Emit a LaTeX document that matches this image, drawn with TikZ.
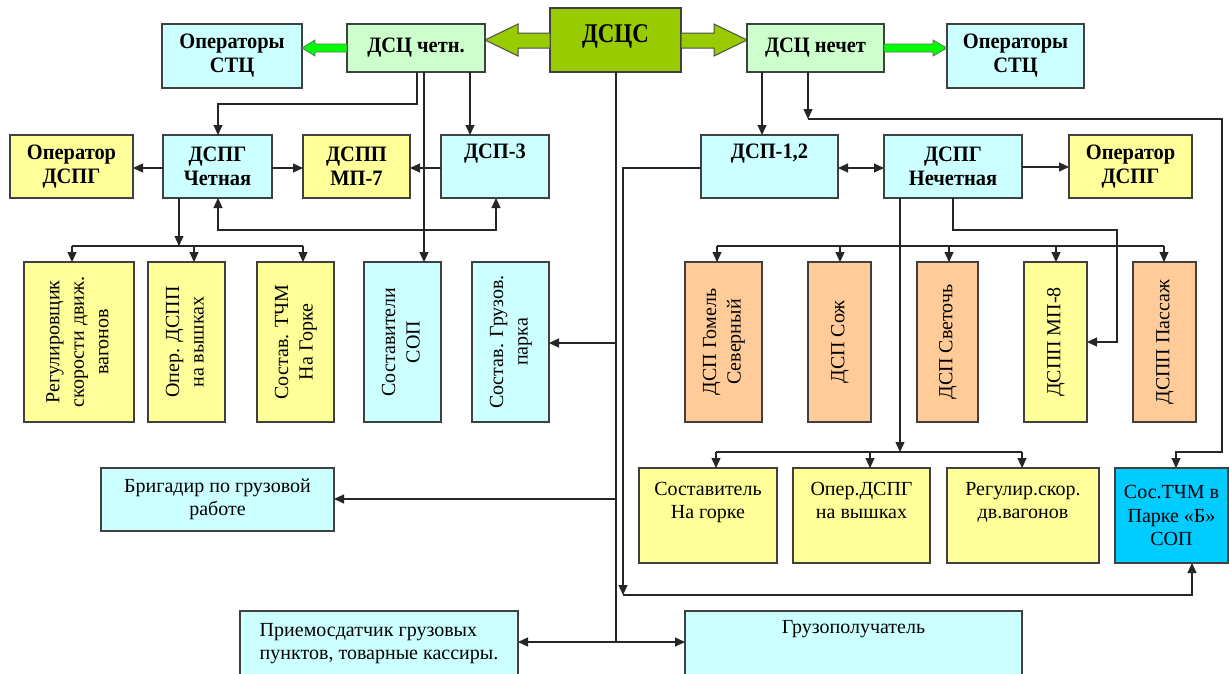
\documentclass[tikz,border=0pt]{standalone}
\usepackage{fontspec}
\setmainfont{Liberation Serif}
\newfontfamily\bcond[FakeStretch=0.93]{Liberation Serif}
\newfontfamily\bbig[FakeStretch=0.85]{Liberation Serif}
\usetikzlibrary{arrows.meta}
\definecolor{cyanL}{HTML}{CCFFFF}
\definecolor{greenL}{HTML}{CCFFCC}
\definecolor{colOlive}{HTML}{99CC00}
\definecolor{colG}{HTML}{00FF00}
\definecolor{colY}{HTML}{FFFF99}
\definecolor{colO}{HTML}{FFCC99}
\definecolor{colB}{HTML}{00CCFF}
\newcommand\bx[8]{\node[box,#8,fill=#6,minimum width={(#4-#2)*1pt},minimum height={(#5-#3)*1pt}] (#1) at ({(#2+#4)/2},{(#3+#5)/2}) {#7};}
\newcommand\rt[1]{\rotatebox{90}{\begin{tabular}{@{}c@{}}#1\end{tabular}}}
\tikzset{
  box/.style={rectangle,draw=black!75,line width=1.2pt,inner sep=0pt,outer sep=0pt,text=black},
  bt/.style={font=\bcond\bfseries\fontsize{22}{24}\selectfont,align=center},
  nt/.style={font=\fontsize{20}{23.5}\selectfont,align=center},
  rtxt/.style={font=\fontsize{20}{24.5}\selectfont},
  ln/.style={line width=1.2pt,draw=black!85},
  arr/.style={ln,-{Triangle[length=10pt,width=9pt]}},
  darr/.style={ln,{Triangle[length=10pt,width=9pt]}-{Triangle[length=10pt,width=9pt]}},
  bigarr/.style={fill=colOlive,draw=black!70,line width=1pt},
  garr/.style={fill=colG,draw=black!60,line width=0.8pt},
}
\begin{document}
\begin{tikzpicture}[x=1pt,y=-1pt]
\useasboundingbox (0,0) rectangle (1229,673);
\clip (0,0) rectangle (1229,673);
\fill[white] (0,0) rectangle (1229,673);
% top row
\bx{opL}{162}{24}{302}{88}{cyanL}{Операторы\\СТЦ}{bt}
\bx{dsczh}{347}{24}{485}{72}{greenL}{ДСЦ четн.}{bt}
\bx{dscs}{550}{8}{681}{72}{colOlive}{ДСЦС}{bt,font=\bbig\bfseries\fontsize{27}{30}\selectfont,text height=18pt,text depth=14pt}
\bx{dscn}{747}{24}{884}{72}{greenL}{ДСЦ нечет}{bt}
\bx{opR}{947}{24}{1084}{88}{cyanL}{Операторы\\СТЦ}{bt}
% row 2
\bx{odL}{10}{135}{133}{198}{colY}{Оператор\\ДСПГ}{bt}
\bx{dspgE}{163}{135}{272}{198}{cyanL}{ДСПГ\\Четная}{bt}
\bx{dsppE}{303}{135}{410}{198}{colY}{ДСПП\\МП-7}{bt}
\bx{dsp3}{441}{135}{549}{198}{cyanL}{ДСП-3\\\strut}{bt}
\bx{dsp12}{701}{135}{838}{198}{cyanL}{ДСП-1,2\\\strut}{bt}
\bx{dspgO}{884}{135}{1022}{198}{cyanL}{ДСПГ\\Нечетная}{bt}
\bx{odR}{1069}{135}{1192}{198}{colY}{Оператор\\ДСПГ}{bt}
% row 3
\bx{reg}{24}{262}{134}{422}{colY}{\rt{Регулировщик\\скорости движ.\\вагонов}}{rtxt}
\bx{oper}{148}{262}{225}{422}{colY}{\rt{Опер. ДСПП\\на вышках}}{rtxt}
\bx{sostav}{257}{262}{334}{422}{colY}{\rt{Состав. ТЧМ\\На Горке}}{rtxt}
\bx{sostSOP}{364}{262}{441}{422}{cyanL}{\rt{Составители\\СОП}}{rtxt}
\bx{sostGr}{472}{262}{549}{422}{cyanL}{\rt{Состав. Грузов.\\парка}}{rtxt}
\bx{gomel}{685}{262}{762}{422}{colO}{\rt{ДСП Гомель\\Северный}}{rtxt}
\bx{sozh}{808}{262}{871}{422}{colO}{\rt{ДСП Сож}}{rtxt}
\bx{svet}{917}{262}{978}{422}{colO}{\rt{ДСП Светочь}}{rtxt}
\bx{mp8}{1024}{262}{1087}{422}{colY}{\rt{ДСПП МП-8}}{rtxt}
\bx{pass}{1133}{262}{1196}{422}{colO}{\rt{ДСПП Пассаж}}{rtxt}
% row 4
\bx{sost}{639}{468}{777}{563}{colY}{Составитель\\На горке\\\strut}{nt}
\bx{operD}{793}{468}{930}{563}{colY}{Опер.ДСПГ\\на вышках\\\strut}{nt}
\bx{regul}{947}{468}{1099}{563}{colY}{Регулир.скор.\\дв.вагонов\\\strut}{nt}
\bx{sosT}{1115}{468}{1228}{563}{colB}{Сос.ТЧМ в\\Парке «Б»\\СОП}{nt}
\bx{brig}{101}{468}{334}{531}{cyanL}{Бригадир по грузовой\\работе}{nt}
\bx{priem}{240}{611}{518}{676}{cyanL}{Приемосдатчик грузовых\\пунктов, товарные кассиры.}{nt,align=left}
\bx{gruz}{685}{611}{1022}{696}{cyanL}{Грузополучатель\\\strut\\\strut}{nt}
% big arrows
\draw[bigarr] (dscs.west |- 0,33) -- (518,33) -- (518,24) -- (dsczh.east |- 0,40) -- (518,56) -- (518,48) -- (dscs.west |- 0,48) -- cycle;
\draw[bigarr] (dscs.east |- 0,33) -- (714,33) -- (714,24) -- (dscn.west |- 0,40) -- (714,56) -- (714,48) -- (dscs.east |- 0,48) -- cycle;
% green arrows
\draw[garr] (dsczh.west |- 0,44) -- (315,44) -- (315,40) -- (opL.east |- 0,48) -- (315,56) -- (315,52) -- (dsczh.west |- 0,52) -- cycle;
\draw[garr] (dscn.east |- 0,44) -- (933,44) -- (933,40) -- (opR.west |- 0,48) -- (933,56) -- (933,52) -- (dscn.east |- 0,52) -- cycle;
% left connectors
\draw[arr] (417,0 |- dsczh.south) -- (417,104) -| (218,0 |- dspgE.north);
\draw[arr] (424,0 |- dsczh.south) -- (424,0 |- sostSOP.north);
\draw[arr] (470,0 |- dsczh.south) -- (470,0 |- dsp3.north);
\draw[arr] (dspgE.west |- 0,168) -- (odL.east |- 0,168);
\draw[arr] (dspgE.east |- 0,168) -- (dsppE.west |- 0,168);
\draw[arr] (dsp3.west |- 0,168) -- (dsppE.east |- 0,168);
\draw[darr] (218,0 |- dspgE.south) |- (496,230) -- (496,0 |- dsp3.south);
\draw[arr] (179,0 |- dspgE.south) -- (179,246);
\draw[ln] (72,246) -- (303,246);
\draw[arr] (72,246) -- (72,0 |- reg.north);
\draw[arr] (194,246) -- (194,0 |- oper.north);
\draw[arr] (303,246) -- (303,0 |- sostav.north);
% central line
\draw[ln] (616,0 |- dscs.south) -- (616,642);
\draw[arr] (616,343) -- (sostGr.east |- 0,343);
\draw[arr] (616,499) -- (brig.east |- 0,499);
\draw[arr] (616,642) -- (priem.east |- 0,642);
\draw[arr] (616,642) -- (gruz.west |- 0,642);
% right connectors
\draw[arr] (762,0 |- dscn.south) -- (762,0 |- dsp12.north);
\draw[arr] (808,0 |- dscn.south) -- (808,119);
\draw[arr] (808,119) -- (1222,119) -- (1222,452) -| (1176,0 |- sosT.north);
\draw[darr] (dsp12.east |- 0,168) -- (dspgO.west |- 0,168);
\draw[arr] (dspgO.east |- 0,167) -- (odR.west |- 0,167);
\draw[arr] (900,0 |- dspgO.south) -- (900,452);
\draw[ln] (716,452) -- (1022,452);
\draw[arr] (716,452) -- (716,0 |- sost.north);
\draw[arr] (870,452) -- (870,0 |- operD.north);
\draw[arr] (1022,452) -- (1022,0 |- regul.north);
\draw[ln] (717,246) -- (1164,246);
\draw[arr] (717,246) -- (717,0 |- gomel.north);
\draw[arr] (840,246) -- (840,0 |- sozh.north);
\draw[arr] (949,246) -- (949,0 |- svet.north);
\draw[arr] (1056,246) -- (1056,0 |- mp8.north);
\draw[arr] (1164,246) -- (1164,0 |- pass.north);
\draw[arr] (953,0 |- dspgO.south) -- (953,230) -| (1117,342) -- (mp8.east |- 0,342);
\draw[arr] (dsp12.west |- 0,168) -| (623,595);
\draw[arr] (623,595) -| (1192,0 |- sosT.south);
\end{tikzpicture}
\end{document}
